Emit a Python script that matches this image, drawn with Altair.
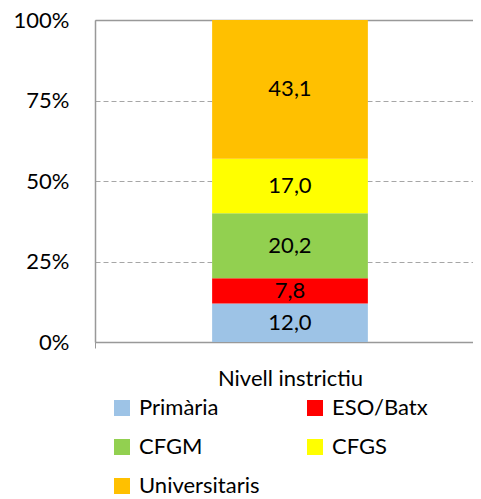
import altair as alt
import pandas as pd

categories = ["Primària", "ESO/Batx", "CFGM", "CFGS", "Universitaris"]
values = [12.0, 7.8, 20.2, 17.0, 43.1]
colors = ["#9DC3E6", "#FF0000", "#92D050", "#FFFF00", "#FFC000"]
group = "Nivell instrictiu"

df = pd.DataFrame({
    "cat": categories,
    "value": values,
    "order": list(range(len(categories))),
    "grp": [group] * len(categories),
})

FONT = "Lato"
FS = 22
GRAY = "#999999"

base = alt.Chart(df).transform_stack(
    stack="value", groupby=["grp"], sort=[alt.SortField("order", "ascending")],
    as_=["y0", "y1"], offset="normalize"
).transform_calculate(
    mid="(datum.y0 + datum.y1) / 2",
    label="replace(format(datum.value, '.1f'), '.', ',')",
)

x_scale = alt.Scale(paddingInner=0, paddingOuter=0)

x_enc = alt.X("grp:N", title=None, scale=x_scale,
              axis=alt.Axis(labelAngle=0, labelFontSize=FS, labelFont=FONT,
                            labelColor="#000000", tickBand="extent", labelOffset=6,
                            tickSize=6, tickColor=GRAY, labelPadding=20,
                            domainColor=GRAY, domainWidth=1.5))

bars = base.mark_bar(width=alt.RelativeBandSize(0.412), xOffset=6).encode(
    x=x_enc,
    y=alt.Y("y0:Q", title=None,
            scale=alt.Scale(domain=[0, 1], nice=False),
            axis=alt.Axis(values=[0, 0.25, 0.5, 0.75, 1], format=".0%",
                          labelFontSize=FS, labelFont=FONT, labelColor="#000000",
                          ticks=False, labelPadding=26,
                          domainColor=GRAY, domainWidth=1.5,
                          grid=True, gridDash=[5, 3], gridColor="#a6a6a6")),
    y2="y1:Q",
    color=alt.Color("cat:N",
                    scale=alt.Scale(domain=categories, range=colors),
                    sort=categories,
                    legend=alt.Legend(title=None, orient="none", legendX=16, legendY=377,
                                      columns=2, direction="horizontal",
                                      symbolType="square", symbolSize=256,
                                      symbolStrokeWidth=0, labelFontSize=FS, labelFont=FONT,
                                      labelColor="#000000", rowPadding=17,
                                      columnPadding=44, labelOffset=6)),
    order=alt.Order("order:Q"),
)

texts = base.mark_text(fontSize=FS, font=FONT, color="#000000", baseline="middle",
                       xOffset=6).encode(
    x=alt.X("grp:N", title=None, scale=x_scale,
            axis=alt.Axis(orient="top", labels=False, ticks=False, grid=False,
                          domainColor=GRAY, domainWidth=1.5)),
    y=alt.Y("mid:Q"),
    text="label:N",
)

chart = alt.layer(bars, texts).resolve_axis(x="independent").properties(
    width=378, height=322,
    autosize=alt.AutoSizeParams(type="none"),
    padding={"left": 87, "top": 12, "right": 0, "bottom": 156},
).configure_view(stroke=None).configure(background="white")

chart.save("out.html", embed_options={"renderer": "svg", "actions": False})
